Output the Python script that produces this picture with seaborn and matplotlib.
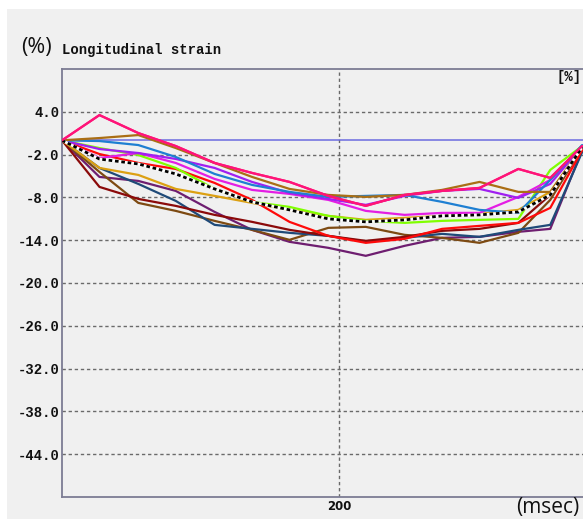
import matplotlib
matplotlib.use("Agg")
import matplotlib.pyplot as plt
from matplotlib.patches import Rectangle
import numpy as np
import pandas as pd
import seaborn as sns

# Sample times (ms) shared by every segment trace
time_ms = [0, 27, 55, 82, 110, 137, 164, 192, 219, 247, 274, 301, 329, 352, 375]

# Segmental longitudinal strain (%)
seg_pink = [0, 3.54, 1.02, -0.80, -3.17, -4.57, -5.83, -7.79, -9.19, -7.65, -7.09, -6.67, -4.01, -5.27, -0.80]
seg_ochre = [0, 0.32, 0.74, -1.08, -3.17, -5.13, -6.81, -7.65, -7.93, -7.65, -6.95, -5.83, -7.23, -7.23, -0.94]
seg_blue = [0, -0.10, -0.66, -2.33, -4.71, -6.25, -7.23, -7.93, -7.79, -7.65, -8.63, -9.75, -10.17, -5.55, -0.66]
seg_violet = [0, -1.22, -1.78, -2.61, -3.87, -5.83, -7.37, -8.21, -9.05, -7.79, -7.09, -6.81, -8.07, -6.11, -0.80]
seg_magenta = [0, -2.48, -1.78, -3.17, -5.41, -6.95, -7.51, -8.35, -9.89, -10.45, -10.17, -10.17, -7.93, -5.55, -0.80]
seg_lime = [0, -1.08, -2.06, -3.87, -6.81, -8.63, -9.33, -10.59, -11.29, -11.57, -11.29, -11.15, -11.01, -4.15, -0.80]
seg_red = [0, -1.92, -3.17, -4.01, -5.97, -8.35, -11.43, -13.39, -14.37, -13.81, -12.41, -11.99, -11.57, -9.47, -1.36]
seg_gold = [0, -3.87, -4.85, -6.81, -7.79, -8.77, -9.75, -10.59, -11.15, -10.87, -10.59, -10.31, -9.75, -7.23, -0.94]
seg_maroon = [0, -6.53, -8.21, -9.19, -10.45, -11.43, -12.55, -13.39, -14.09, -13.53, -12.69, -12.41, -11.57, -7.65, -0.94]
seg_navy = [0, -3.87, -6.11, -8.49, -11.85, -12.41, -12.97, -13.39, -14.23, -13.67, -13.11, -13.53, -12.55, -11.85, -1.64]
seg_brown = [0, -4.43, -8.77, -9.89, -11.29, -12.55, -13.95, -12.27, -12.13, -13.25, -13.67, -14.37, -12.97, -8.35, -1.08]
seg_plum = [0, -5.13, -5.69, -7.09, -10.03, -12.55, -14.23, -15.07, -16.19, -14.79, -13.67, -13.53, -12.83, -12.41, -1.36]

# Global (average) trace
global_strain = [0, -2.62, -3.31, -4.71, -6.81, -8.63, -9.75, -11.01, -11.43, -11.15, -10.59, -10.45, -10.03, -7.65, -0.94]

y_ticks = [4, -2, -8, -14, -20, -26, -32, -38, -44]
y_tick_labels = ["4.0", "-2.0", "-8.0", "-14.0", "-20.0", "-26.0", "-32.0", "-38.0", "-44.0"]
x_ticks = [200]
x_tick_labels = ["200"]

segments = {
    "plum": (seg_plum, "#6e1e70"),
    "brown": (seg_brown, "#7d4a12"),
    "navy": (seg_navy, "#1f4a78"),
    "maroon": (seg_maroon, "#8b0a0a"),
    "gold": (seg_gold, "#dca012"),
    "red": (seg_red, "#ff0a0a"),
    "lime": (seg_lime, "#80ff00"),
    "magenta": (seg_magenta, "#e41ee4"),
    "violet": (seg_violet, "#a020f0"),
    "blue": (seg_blue, "#1e7fd2"),
    "ochre": (seg_ochre, "#aa6e14"),
    "pink": (seg_pink, "#ff1478"),
}

frames = []
for name, (vals, _) in segments.items():
    frames.append(pd.DataFrame({"time": time_ms, "strain": vals, "segment": name}))
df = pd.concat(frames, ignore_index=True)
palette = {name: col for name, (_, col) in segments.items()}
avg_df = pd.DataFrame({"time": time_ms, "strain": global_strain})

sns.set_theme(style="white")
W, H = 583, 519
fig = plt.figure(figsize=(W / 100, H / 100), dpi=100, facecolor="white")
fig.patches.append(Rectangle((7 / W, 0), 1, 1 - 9 / H, transform=fig.transFigure,
                             facecolor="#f0f0f0", edgecolor="none", zorder=-10))

ax = fig.add_axes([62 / W, 1 - 497 / H, (W - 62) / W, (497 - 69) / H])
ax.set_facecolor("#f0f0f0")

ax.set_xlim(0, 375.6)
ax.set_ylim(-50, 10)

# grid
for yv in y_ticks:
    ax.axhline(yv, color="#6a6a6a", lw=1.0, dashes=(2.4, 2.0), zorder=1)
for xv in x_ticks:
    ax.axvline(xv, color="#6a6a6a", lw=1.0, dashes=(2.4, 2.0), zorder=1)
ax.axhline(0, color="#6b6be0", lw=1.1, zorder=2)

sns.lineplot(data=df, x="time", y="strain", hue="segment", palette=palette,
             estimator=None, sort=False, lw=1.6, legend=False, ax=ax, zorder=3)
sns.lineplot(data=avg_df, x="time", y="strain", color="white", lw=2.0,
             estimator=None, legend=False, ax=ax, zorder=4)
sns.lineplot(data=avg_df, x="time", y="strain", color="black", lw=2.0,
             dashes=False, estimator=None, legend=False, ax=ax, zorder=5)
ax.lines[-1].set_dashes((1.3, 1.0))
# keep the pink trace on top
sns.lineplot(x=time_ms, y=seg_pink, color="#ff1478", lw=1.6, estimator=None,
             legend=False, ax=ax, zorder=6)

ax.set_xlabel("")
ax.set_ylabel("")
mono = {"family": "Liberation Mono", "weight": "bold", "size": 10}
ax.set_yticks(y_ticks)
ax.set_yticklabels(y_tick_labels, fontdict=mono, color="#111111")
ax.set_xticks(x_ticks)
ax.set_xticklabels(x_tick_labels, fontdict={"family": "DejaVu Sans", "weight": "bold", "size": 8.5},
                   color="#111111")
ax.tick_params(axis="both", length=0, pad=2)

for side in ["left", "top", "bottom"]:
    ax.spines[side].set_color("#7c7c94")
    ax.spines[side].set_linewidth(1.3)
ax.spines["right"].set_visible(False)

fig.text(21 / W, 1 - 47 / H, "(%)", fontsize=15.5, family="Open Sans", va="center", ha="left",
         color="#111111")
fig.text(62 / W, 1 - 50 / H, "Longitudinal strain", va="center", ha="left", color="#111111",
         **{"family": "Liberation Mono", "weight": "bold", "size": 10})
fig.text(582 / W, 1 - 77 / H, "[%]", va="center", ha="right", color="#111111",
         **{"family": "Liberation Mono", "weight": "bold", "size": 10})
fig.text(579 / W, 1 - 507 / H, "(msec)", fontsize=15, family="Open Sans", va="center", ha="right",
         color="#111111")

fig.savefig("out.png", dpi=100, facecolor="white")
